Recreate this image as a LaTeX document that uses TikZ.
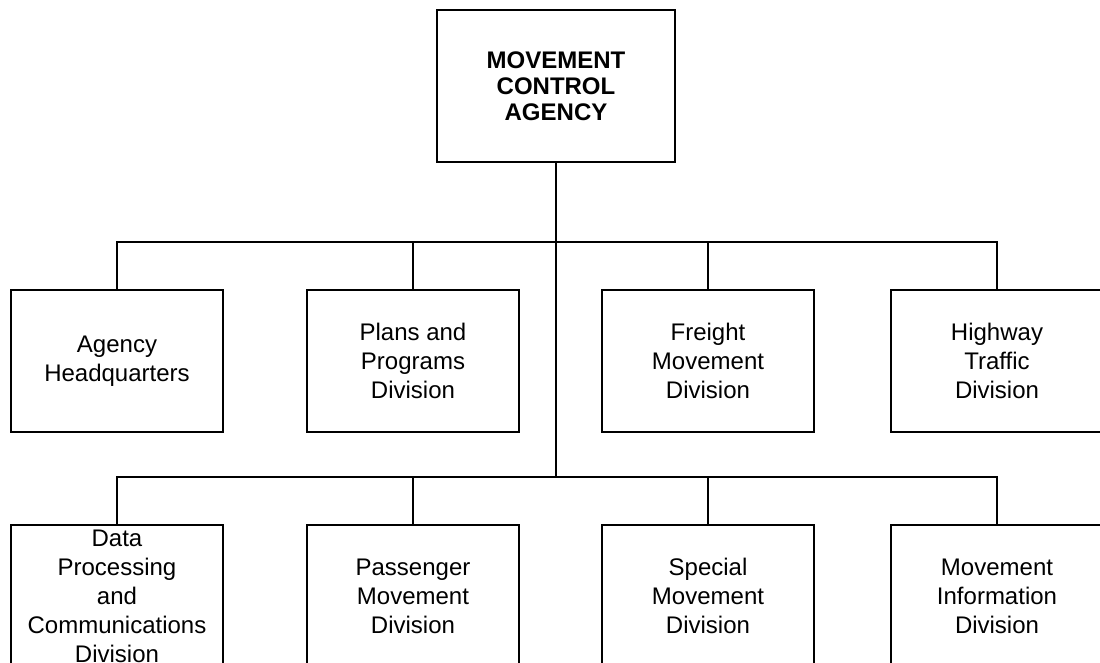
\documentclass[tikz,border=0pt]{standalone}
\usepackage{fontspec}
\setmainfont{Liberation Sans}
\usepackage{tikz}
\usetikzlibrary{positioning}
\tikzset{unit/.style={rectangle,draw=black,line width=2.4pt,inner sep=0pt,
  minimum width=212pt,minimum height=142pt,align=center,
  font=\fontsize{24}{29}\selectfont}}
\tikzset{chief/.style={unit,minimum width=238pt,minimum height=152pt,
  font=\fontsize{24}{26}\selectfont\bfseries}}
\tikzset{link/.style={line width=2.4pt}}

\begin{document}
\begin{tikzpicture}[x=1pt,y=-1pt]
\useasboundingbox (0,0) rectangle (1100,662);
% \draw[help lines] (0,0) grid (1100,662);
\node (top) [chief] at (556,86) {MOVEMENT\\CONTROL\\AGENCY};
%
\node (hq) [unit] at (117,361) {Agency\\Headquarters};
\node (plans) [unit] at (413,361) {Plans and\\Programs\\Division};
\node (freight) [unit] at (708,361) {Freight\\Movement\\Division};
\node (highway) [unit] at (997,361) {Highway\\Traffic\\Division};
%
\node (dpc) [unit] at (117,596) {Data\\Processing\\and\\Communications\\Division};
\node (passenger) [unit] at (413,596) {Passenger\\Movement\\Division};
\node (special) [unit] at (708,596) {Special\\Movement\\Division};
\node (info) [unit] at (997,596) {Movement\\Information\\Division};
%
\coordinate (bus1) at (556,242);
\coordinate (bus2) at (556,477);
\draw[link] (top) -- (bus2);
\draw[link] (hq.north) |- (bus1) -| (highway.north);
\draw[link] (plans.north) -- (plans.north |- bus1);
\draw[link] (freight.north) -- (freight.north |- bus1);
\draw[link] (dpc.north) |- (bus2) -| (info.north);
\draw[link] (passenger.north) -- (passenger.north |- bus2);
\draw[link] (special.north) -- (special.north |- bus2);
\end{tikzpicture}
\end{document}
